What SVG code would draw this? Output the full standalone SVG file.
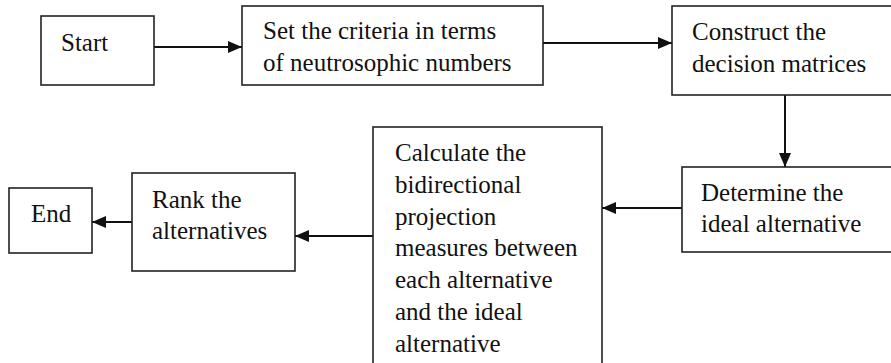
<svg xmlns="http://www.w3.org/2000/svg" width="891" height="363" viewBox="0 0 891 363">
<defs>
<style>
.box{fill:#fff;stroke:#222;stroke-width:1.6}
.t{font-family:"Liberation Serif","Times New Roman",serif;font-size:25px;fill:#111}
.c{stroke:#111;stroke-width:2;fill:none}
</style>
<marker id="ah" markerWidth="14" markerHeight="12" refX="14" refY="6" orient="auto" markerUnits="userSpaceOnUse">
<path d="M0,0 L14,6 L0,12 Z" fill="#111"/>
</marker>
</defs>
<rect width="891" height="363" fill="#fff"/>
<g id="connectors">
<line class="c" x1="154" y1="47" x2="242" y2="47" marker-end="url(#ah)"/>
<line class="c" x1="543" y1="43" x2="672" y2="43" marker-end="url(#ah)"/>
<line class="c" x1="785" y1="95" x2="785" y2="167" marker-end="url(#ah)"/>
<line class="c" x1="682" y1="208" x2="602" y2="208" marker-end="url(#ah)"/>
<line class="c" x1="373" y1="236" x2="295" y2="236" marker-end="url(#ah)"/>
<line class="c" x1="132" y1="222" x2="92" y2="222" marker-end="url(#ah)"/>
</g>
<g id="start">
<rect class="box" x="41" y="16" width="113" height="69"/>
<text class="t" x="61" y="51">Start</text>
</g>
<g id="criteria">
<rect class="box" x="242" y="6" width="301" height="79"/>
<text class="t" x="263" y="39">Set the criteria in terms</text>
<text class="t" x="263" y="71">of neutrosophic numbers</text>
</g>
<g id="construct">
<rect class="box" x="672" y="6" width="225" height="89"/>
<text class="t" x="692" y="40">Construct the</text>
<text class="t" x="692" y="72">decision matrices</text>
</g>
<g id="determine">
<rect class="box" x="682" y="167" width="215" height="85"/>
<text class="t" x="701" y="201">Determine the</text>
<text class="t" x="701" y="232">ideal alternative</text>
</g>
<g id="calculate">
<rect class="box" x="373" y="127" width="229" height="245"/>
<text class="t" x="395" y="161">Calculate the</text>
<text class="t" x="395" y="193">bidirectional</text>
<text class="t" x="395" y="225">projection</text>
<text class="t" x="395" y="256">measures between</text>
<text class="t" x="395" y="288">each alternative</text>
<text class="t" x="395" y="320">and the ideal</text>
<text class="t" x="395" y="352">alternative</text>
</g>
<g id="rank">
<rect class="box" x="132" y="173" width="163" height="98"/>
<text class="t" x="152" y="208">Rank the</text>
<text class="t" x="152" y="239">alternatives</text>
</g>
<g id="end">
<rect class="box" x="9" y="188" width="83" height="65"/>
<text class="t" x="31" y="222">End</text>
</g>
</svg>
